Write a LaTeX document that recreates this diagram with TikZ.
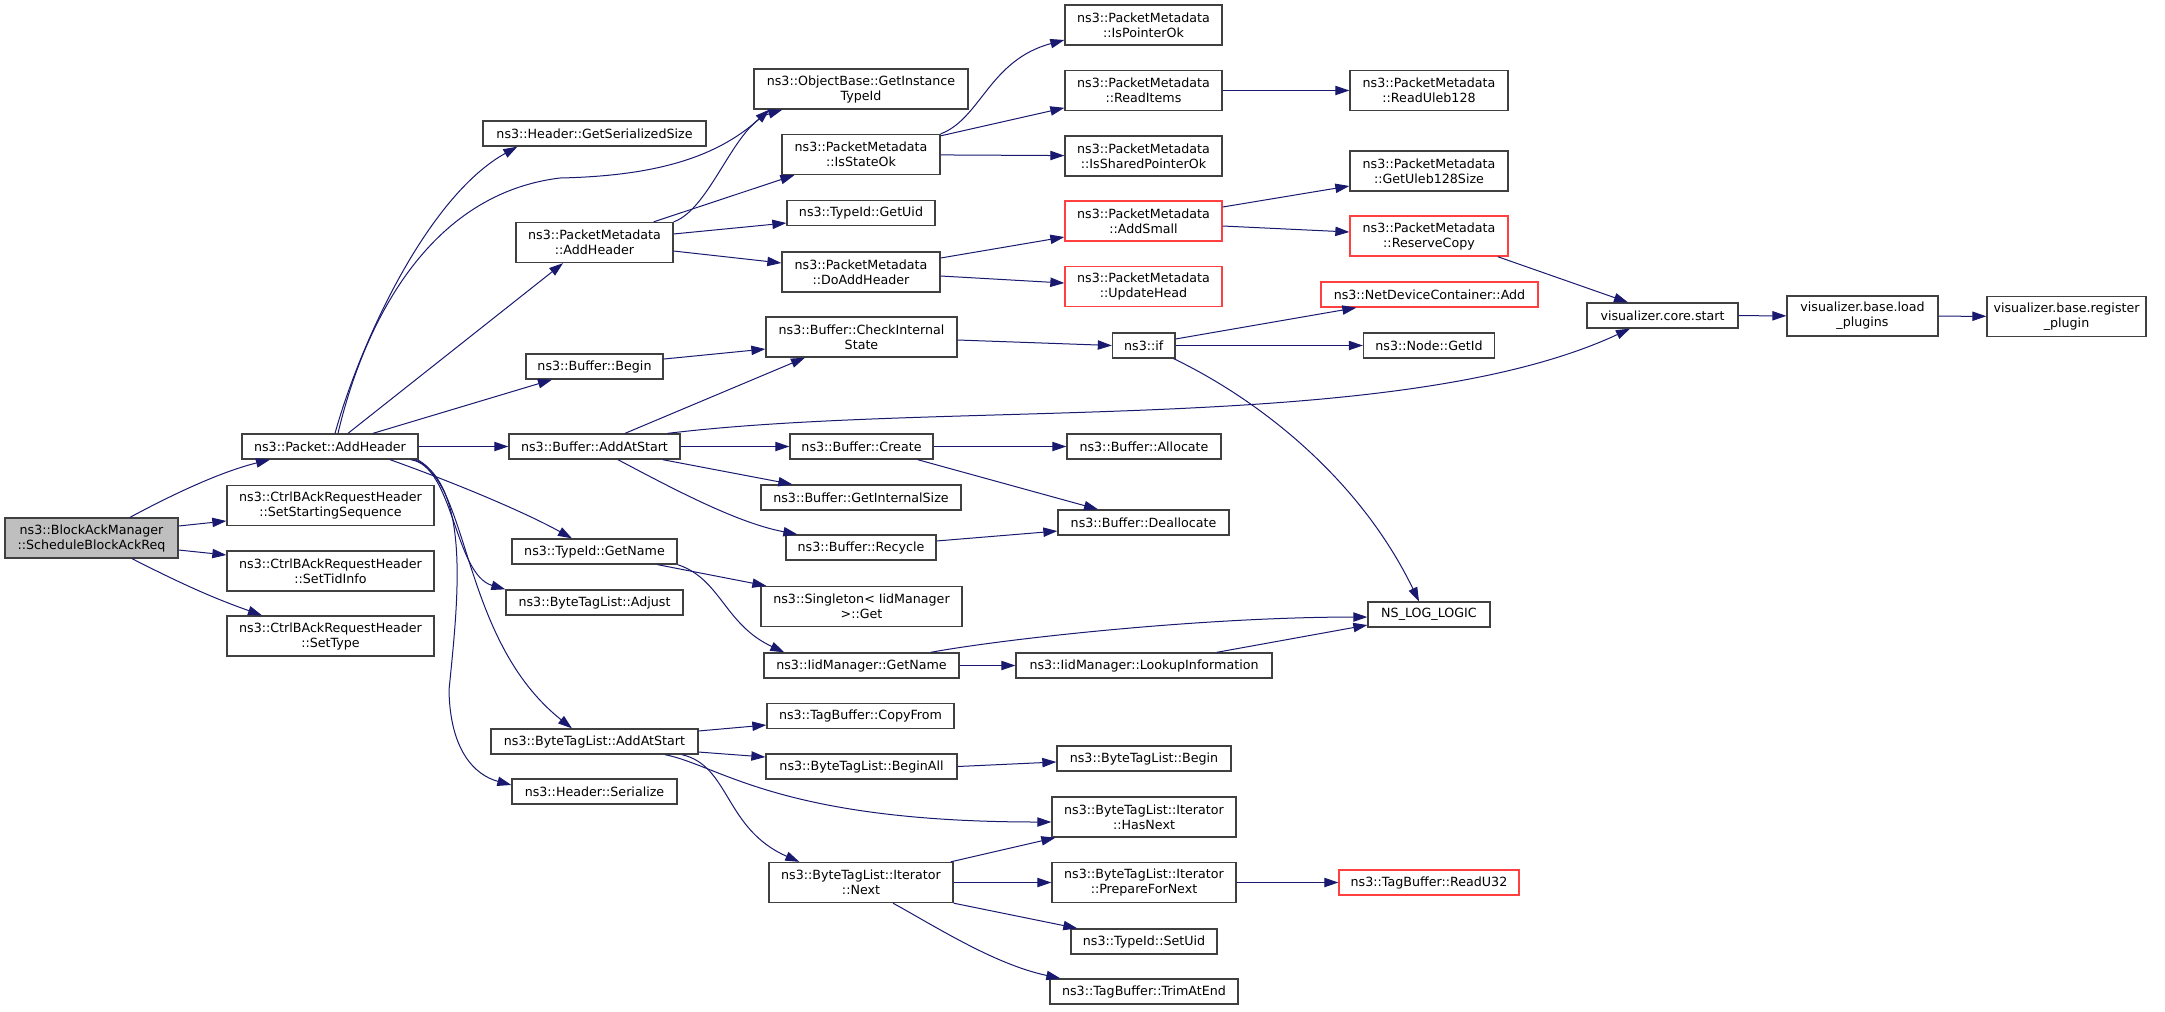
\documentclass[tikz,border=0pt]{standalone}
\usepackage{fontspec}
\newfontfamily\doxfont{DejaVu Sans}
\usetikzlibrary{arrows.meta}
\definecolor{edgeblue}{RGB}{25,25,112}
\definecolor{boxgrey}{RGB}{64,64,64}
\definecolor{boxred}{RGB}{255,64,64}
\definecolor{rootfill}{RGB}{191,191,191}
\tikzset{
	fn/.style={draw=boxgrey, line width=1pt, fill=white, inner sep=0pt, align=center, minimum height=18.75pt, font=\doxfont\fontsize{9.5}{11.25}\selectfont},
	fntwo/.style={fn, minimum height=30pt},
	missing/.style={draw=boxred},
	call/.style={draw=edgeblue, line width=0.75pt, -{Triangle[length=10.5pt, width=7pt]}}
}

\begin{document}
\begin{tikzpicture}[x=0.75pt, y=-0.75pt]
			%%%%% START %%%%%
			
			\fill[white] (0, 0) rectangle (2165, 1011);
			\useasboundingbox (0, 0) rectangle (2165, 1011);
			
			\node[fntwo, fill=rootfill, minimum width=129.75pt] (blockAck) at (91.5, 538) {ns3::BlockAckManager\\::ScheduleBlockAckReq};
			\node[fn, minimum width=132pt] (pktAddHeader) at (330, 446.5) {ns3::Packet::AddHeader};
			\node[fntwo, minimum width=155.25pt] (setStartSeq) at (330.5, 505.5) {ns3::CtrlBAckRequestHeader\\::SetStartingSequence};
			\node[fntwo, minimum width=155.25pt] (setTidInfo) at (330.5, 571) {ns3::CtrlBAckRequestHeader\\::SetTidInfo};
			\node[fntwo, minimum width=155.25pt] (setType) at (330.5, 636) {ns3::CtrlBAckRequestHeader\\::SetType};
			
			\node[fn, minimum width=167.25pt] (getSerSize) at (594.5, 133.5) {ns3::Header::GetSerializedSize};
			\node[fntwo, minimum width=117.75pt] (pmAddHeader) at (594.5, 242.5) {ns3::PacketMetadata\\::AddHeader};
			\node[fn, minimum width=102.75pt] (bufBegin) at (594.5, 366.5) {ns3::Buffer::Begin};
			\node[fn, minimum width=128.25pt] (bufAddAtStart) at (594.5, 446.5) {ns3::Buffer::AddAtStart};
			\node[fn, minimum width=123.75pt] (tidGetName) at (594.5, 551.5) {ns3::TypeId::GetName};
			\node[fn, minimum width=132.75pt] (btlAdjust) at (594.5, 602.5) {ns3::ByteTagList::Adjust};
			\node[fn, minimum width=155.25pt] (btlAddAtStart) at (594.5, 741.5) {ns3::ByteTagList::AddAtStart};
			\node[fn, minimum width=123.75pt] (hdrSerialize) at (594.5, 791.5) {ns3::Header::Serialize};
			
			\node[fntwo, minimum width=160.5pt] (getInstTid) at (861, 89) {ns3::ObjectBase::GetInstance\\TypeId};
			\node[fntwo, minimum width=118.5pt] (isStateOk) at (861, 154.5) {ns3::PacketMetadata\\::IsStateOk};
			\node[fn, minimum width=111pt] (tidGetUid) at (861, 213) {ns3::TypeId::GetUid};
			\node[fntwo, minimum width=118.5pt] (doAddHeader) at (861, 272) {ns3::PacketMetadata\\::DoAddHeader};
			\node[fntwo, minimum width=143.25pt] (checkState) at (861.5, 337) {ns3::Buffer::CheckInternal\\State};
			\node[fn, minimum width=107.25pt] (bufCreate) at (861.5, 446.5) {ns3::Buffer::Create};
			\node[fn, minimum width=150pt] (getIntSize) at (861, 497.5) {ns3::Buffer::GetInternalSize};
			\node[fn, minimum width=112.5pt] (bufRecycle) at (861, 547.5) {ns3::Buffer::Recycle};
			\node[fntwo, minimum width=150.75pt] (singletonGet) at (861.5, 606.5) {ns3::Singleton< IidManager\\>::Get};
			\node[fn, minimum width=146.25pt] (iidGetName) at (861.5, 665.5) {ns3::IidManager::GetName};
			\node[fn, minimum width=140.25pt] (copyFrom) at (860.5, 716) {ns3::TagBuffer::CopyFrom};
			\node[fn, minimum width=143.25pt] (beginAll) at (861.5, 766.5) {ns3::ByteTagList::BeginAll};
			\node[fntwo, minimum width=138pt] (iterNext) at (861, 882.5) {ns3::ByteTagList::Iterator\\::Next};
			
			\node[fntwo, minimum width=117.75pt] (isPointerOk) at (1143.5, 25) {ns3::PacketMetadata\\::IsPointerOk};
			\node[fntwo, minimum width=117.75pt] (readItems) at (1143.5, 90.5) {ns3::PacketMetadata\\::ReadItems};
			\node[fntwo, minimum width=117.75pt] (isSharedOk) at (1143.5, 156) {ns3::PacketMetadata\\::IsSharedPointerOk};
			\node[fntwo, missing, minimum width=117.75pt] (addSmall) at (1143.5, 221) {ns3::PacketMetadata\\::AddSmall};
			\node[fntwo, missing, minimum width=117.75pt] (updateHead) at (1143.5, 286.5) {ns3::PacketMetadata\\::UpdateHead};
			\node[fn, minimum width=46.9pt] (nsIf) at (1143.75, 345.5) {ns3::if};
			\node[fn, minimum width=115.5pt] (allocate) at (1144, 446.5) {ns3::Buffer::Allocate};
			\node[fn, minimum width=128.25pt] (deallocate) at (1143.5, 522.5) {ns3::Buffer::Deallocate};
			\node[fn, minimum width=192pt] (lookupInfo) at (1144, 665.5) {ns3::IidManager::LookupInformation};
			\node[fn, minimum width=130.5pt] (btlBegin) at (1144, 758.5) {ns3::ByteTagList::Begin};
			\node[fntwo, minimum width=138pt] (hasNext) at (1144, 817) {ns3::ByteTagList::Iterator\\::HasNext};
			\node[fntwo, minimum width=138pt] (prepNext) at (1144, 882.5) {ns3::ByteTagList::Iterator\\::PrepareForNext};
			\node[fn, minimum width=109.5pt] (setUid) at (1144, 941.5) {ns3::TypeId::SetUid};
			\node[fn, minimum width=141pt] (trimAtEnd) at (1144, 991.5) {ns3::TagBuffer::TrimAtEnd};
			
			\node[fntwo, minimum width=118.5pt] (readUleb) at (1429, 90.5) {ns3::PacketMetadata\\::ReadUleb128};
			\node[fntwo, minimum width=118.5pt] (getUlebSize) at (1429, 171) {ns3::PacketMetadata\\::GetUleb128Size};
			\node[fntwo, missing, minimum width=118.5pt] (reserveCopy) at (1429, 236) {ns3::PacketMetadata\\::ReserveCopy};
			\node[fn, missing, minimum width=162.75pt] (ndcAdd) at (1429.5, 294.5) {ns3::NetDeviceContainer::Add};
			\node[fn, minimum width=98.25pt] (nodeGetId) at (1429, 345.5) {ns3::Node::GetId};
			\node[fn, minimum width=91.5pt] (nsLogLogic) at (1429, 614.5) {NS\_LOG\_LOGIC};
			\node[fn, missing, minimum width=135pt] (readU32) at (1429, 882.5) {ns3::TagBuffer::ReadU32};
			
			\node[fn, minimum width=113.25pt] (vizStart) at (1662.5, 315.5) {visualizer.core.start};
			\node[fntwo, minimum width=113.25pt] (loadPlugins) at (1862.5, 316) {visualizer.base.load\\\_plugins};
			\node[fntwo, minimum width=119.25pt] (regPlugin) at (2066.5, 316.5) {visualizer.base.register\\\_plugin};
			
			% calls of the root
			\draw[call] ([xshift=28.9pt]blockAck.north) .. controls +(50,-27) and +(-45,11) .. ([xshift=-45pt]pktAddHeader.south);
			\draw[call] ([yshift=9pt]blockAck.east) -- ([yshift=-11.6pt]setStartSeq.west);
			\draw[call] ([yshift=-9pt]blockAck.east) -- ([yshift=12pt]setTidInfo.west);
			\draw[call] ([xshift=30.4pt]blockAck.south) .. controls +(55,28) and +(-45,-16) .. ([xshift=-51.4pt]setType.north);
			
			% Packet::AddHeader
			\draw[call] ([xshift=3.75pt]pktAddHeader.north) .. controls +(25,-90) and +(-90,50) .. ([xshift=26.25pt]getSerSize.south west);
			\draw[call] ([xshift=6pt]pktAddHeader.north) .. controls +(22,-94) and +(-140,17) .. (560, 178) .. controls +(90,-2) and +(-55,50) .. ([xshift=12pt]getInstTid.south west);
			\draw[call] ([xshift=13.5pt]pktAddHeader.north) -- ([xshift=-23.6pt]pmAddHeader.south);
			\draw[call] ([xshift=32.25pt]pktAddHeader.north) -- ([xshift=-31.9pt]bufBegin.south);
			\draw[call] (pktAddHeader) -- (bufAddAtStart);
			\draw[call] ([xshift=45pt]pktAddHeader.south) .. controls +(70,25) and +(-45,-25) .. ([xshift=-16.9pt]tidGetName.north);
			\draw[call] ([xshift=-6pt]pktAddHeader.south east) .. controls +(43,6) and +(-51,-15) .. (btlAdjust.north west);
			\draw[call] ([xshift=-3pt]pktAddHeader.south east) .. controls +(56,21) and +(-112,-89) .. ([xshift=-16.9pt]btlAddAtStart.north);
			\draw[call] ([xshift=-0.75pt]pktAddHeader.south east) .. controls +(53,31) and +(9,-90) .. (449, 690) .. controls +(1,60) and +(-37,-10) .. ([yshift=4.9pt]hdrSerialize.west);
			
			% PacketMetadata
			\draw[call] (pmAddHeader.north east) .. controls +(37,-13) and +(-48,15) .. ([xshift=21.75pt]getInstTid.south west);
			\draw[call] ([xshift=-15pt]pmAddHeader.north east) -- ([xshift=9.75pt]isStateOk.south west);
			\draw[call] ([yshift=6.4pt]pmAddHeader.east) -- ([yshift=-7.5pt]tidGetUid.west);
			\draw[call] ([yshift=-6.4pt]pmAddHeader.east) -- ([yshift=6.75pt]doAddHeader.west);
			\draw[call] (isStateOk.north east) .. controls +(40,-15) and +(-75,20) .. ([yshift=-11.25pt]isPointerOk.west);
			\draw[call] ([yshift=-1.5pt]isStateOk.north east) -- ([yshift=-13pt]readItems.west);
			\draw[call] (isStateOk) -- (isSharedOk);
			\draw[call] (readItems) -- (readUleb);
			\draw[call] ([yshift=10.5pt]doAddHeader.east) -- ([yshift=-12pt]addSmall.west);
			\draw[call] ([yshift=-3pt]doAddHeader.east) -- ([yshift=2.6pt]updateHead.west);
			\draw[call] ([yshift=10.5pt]addSmall.east) -- ([yshift=-11.25pt]getUlebSize.west);
			\draw[call] ([yshift=-3.75pt]addSmall.east) -- ([yshift=3pt]reserveCopy.west);
			\draw[call] ([xshift=-8.25pt]reserveCopy.south east) -- ([xshift=-25.9pt]vizStart.north);
			\draw[call] (vizStart) -- (loadPlugins);
			\draw[call] (loadPlugins) -- (regPlugin);
			
			% Buffer
			\draw[call] ([yshift=5.6pt]bufBegin.east) -- ([yshift=-9pt]checkState.west);
			\draw[call] ([xshift=22.9pt]bufAddAtStart.north) -- ([xshift=-42.4pt]checkState.south);
			\draw[call] ([xshift=-9.75pt]bufAddAtStart.north east) .. controls +(283,-34) and +(-230,107) .. ([xshift=-24.4pt]vizStart.south);
			\draw[call] (bufAddAtStart) -- (bufCreate);
			\draw[call] ([xshift=-13.5pt]bufAddAtStart.south east) -- ([xshift=24pt]getIntSize.north west);
			\draw[call] ([xshift=17.6pt]bufAddAtStart.south) .. controls +(62,33) and +(-58,-11) .. ([xshift=9pt]bufRecycle.north west);
			\draw[call] ([yshift=-2.25pt]checkState.east) -- (nsIf.west);
			\draw[call] ([yshift=4.9pt]nsIf.east) -- ([xshift=27pt]ndcAdd.south west);
			\draw[call] (nsIf) -- (nodeGetId);
			\draw[call] ([xshift=-1.5pt]nsIf.south east) .. controls +(87,42) and +(-59,-122) .. ([xshift=-7.5pt]nsLogLogic.north);
			\draw[call] (bufCreate) -- (allocate);
			\draw[call] ([xshift=-12pt]bufCreate.south east) -- ([xshift=-34.1pt]deallocate.north);
			\draw[call] ([yshift=4.9pt]bufRecycle.east) -- ([yshift=-6.4pt]deallocate.west);
			
			% TypeId::GetName
			\draw[call] ([xshift=-15pt]tidGetName.south east) -- ([xshift=4.5pt]singletonGet.north west);
			\draw[call] (tidGetName.south east) .. controls +(43,14) and +(-60,-28) .. ([xshift=15.75pt]iidGetName.north west);
			\draw[call] ([xshift=-21.75pt]iidGetName.north east) .. controls +(70,-13) and +(-168,0) .. ([yshift=-1.9pt]nsLogLogic.west);
			\draw[call] (iidGetName) -- (lookupInfo);
			\draw[call] ([xshift=-42pt]lookupInfo.north east) -- ([yshift=-7.9pt]nsLogLogic.west);
			
			% ByteTagList
			\draw[call] ([yshift=7.9pt]btlAddAtStart.east) -- ([yshift=-6.75pt]copyFrom.west);
			\draw[call] ([yshift=-7.9pt]btlAddAtStart.east) -- ([yshift=7.1pt]beginAll.west);
			\draw[call] ([xshift=52.9pt]btlAddAtStart.south) .. controls +(55,11) and +(-272,0) .. ([yshift=-3.75pt]hasNext.west);
			\draw[call] ([xshift=65.6pt]btlAddAtStart.south) .. controls +(48,11) and +(-75,-33) .. ([xshift=23.25pt]iterNext.north west);
			\draw[call] (beginAll.east) -- ([yshift=-2.6pt]btlBegin.west);
			\draw[call] ([xshift=-2.25pt]iterNext.north east) -- ([xshift=3pt]hasNext.south west);
			\draw[call] (iterNext) -- (prepNext);
			\draw[call] (iterNext.south east) -- ([xshift=5.25pt]setUid.north west);
			\draw[call] ([xshift=24pt]iterNext.south) .. controls +(42,23) and +(-66,-14) .. ([xshift=8.25pt]trimAtEnd.north west);
			\draw[call] (prepNext) -- (readU32);
			
			%%%%% END %%%%%
\end{tikzpicture}
\end{document}
